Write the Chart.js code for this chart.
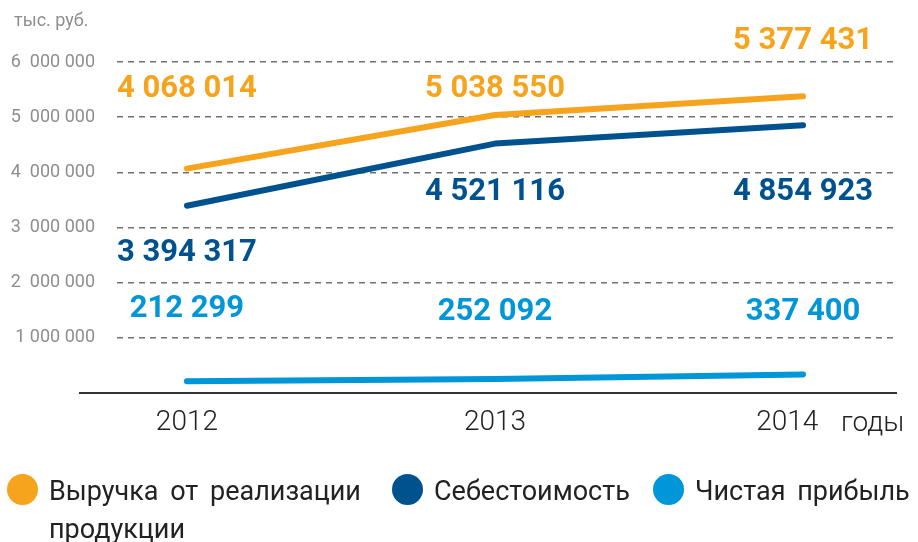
<!DOCTYPE html>
<html>
<head>
<meta charset="utf-8">
<script src="https://cdn.jsdelivr.net/npm/chart.js@4.4.1/dist/chart.umd.min.js"></script>
<style>
  body { margin: 0; background: #fff; }
  #wrap { position: relative; width: 918px; height: 542px; font-family: Roboto, sans-serif; }
  #grafico { position: absolute; left: 0; top: 0; }
  .unit { position: absolute; left: 14px; top: 9px; font-size: 18px; color: #8e8e8e; }
  .godi { position: absolute; left: 841px; top: 405px; font-size: 28px; font-weight: 300; color: #222; }
  .leg { position: absolute; top: 472px; font-size: 27px; color: #222; line-height: 38px; word-spacing: 5px; }
  .leg span.dot { position: absolute; left: 0; top: 2px; width: 31px; height: 31px; border-radius: 50%; }
  .leg div { padding-left: 42px; }
</style>
</head>
<body>
<div id="wrap">
  <canvas id="grafico" width="918" height="542"></canvas>
  <div class="unit">тыс. руб.</div>
  <div class="godi">годы</div>
  <div id="leyenda"></div>
</div>
<script>
const anios = [2012, 2013, 2014];
const nombres = ['Выручка от реализации продукции', 'Себестоимость', 'Чистая прибыль'];
const vyruchka = [4068014, 5038550, 5377431];
const sebestoimost = [3394317, 4521116, 4854923];
const pribyl = [212299, 252092, 337400];
const etiquetasY = ['1 000 000', '2  000 000', '3  000 000', '4  000 000', '5  000 000', '6  000 000'];
const colores = ['#F6A31E', '#00528F', '#0096D8'];

// where each value label sits (in axis units), per series and year
const filasEtiquetas = [
    [5510000, 5510000, 6380000],
    [2540000, 3640000, 3640000],
    [1520000, 1470000, 1470000]
];

function formato(n) {
    return String(n).replace(/\B(?=(\d{3})+(?!\d))/g, ' ');
}

const etiquetasPlugin = {
    id: 'etiquetas',
    afterDatasetsDraw(chart) {
        const ctx = chart.ctx;
        const x = chart.scales.x;
        const y = chart.scales.y;
        ctx.save();
        // base line, longer than the grid
        ctx.strokeStyle = '#333';
        ctx.lineWidth = 2;
        ctx.beginPath();
        ctx.moveTo(79, y.getPixelForValue(0));
        ctx.lineTo(chart.chartArea.right, y.getPixelForValue(0));
        ctx.stroke();

        ctx.font = 'bold 31px Roboto';
        ctx.textAlign = 'center';
        ctx.textBaseline = 'middle';
        chart.data.datasets.forEach((ds, i) => {
            ctx.fillStyle = ds.borderColor;
            ds.data.forEach((p, j) => {
                ctx.fillText(formato(p.y), x.getPixelForValue(p.x), y.getPixelForValue(filasEtiquetas[i][j]));
            });
        });
        ctx.restore();
    }
};

const series = [vyruchka, sebestoimost, pribyl];

new Chart(document.getElementById('grafico'), {
    type: 'line',
    data: {
        datasets: series.map((s, i) => ({
            label: nombres[i],
            data: s.map((v, j) => ({ x: anios[j], y: v })),
            borderColor: colores[i],
            borderWidth: 6,
            borderCapStyle: 'round',
            borderJoinStyle: 'round',
            pointRadius: 0,
            tension: 0,
            clip: false
        }))
    },
    options: {
        responsive: false,
        animation: false,
        events: [],
        layout: { padding: { top: 62, right: 21, left: 0, bottom: 0 } },
        plugins: { legend: { display: false }, tooltip: { enabled: false } },
        scales: {
            x: {
                type: 'linear',
                min: 2011.773,
                max: 2014.305,
                afterBuildTicks: axis => { axis.ticks = anios.map(v => ({ value: v })); },
                afterFit: axis => { axis.height = 149; },
                grid: { display: false, drawTicks: false },
                border: { display: false },
                ticks: {
                    padding: 13,
                    color: '#222',
                    font: { family: 'Roboto', size: 28, weight: 300 },
                    // last year label sits a bit left, leaving room for "годы"
                    callback: (v, i) => i === anios.length - 1 ? String(v) + '\u2007\u2007' : String(v)
                }
            },
            y: {
                min: 0,
                max: 6000000,
                afterBuildTicks: axis => { axis.ticks = [0, 1, 2, 3, 4, 5, 6].map(v => ({ value: v * 1000000 })); },
                afterFit: axis => { axis.width = 117; },
                border: { display: false, dash: [6, 5] },
                grid: {
                    drawTicks: false,
                    color: c => c.tick.value === 0 ? 'rgba(0,0,0,0)' : '#707070',
                    lineWidth: 1.5
                },
                ticks: {
                    padding: 22,
                    color: '#8e8e8e',
                    font: { family: 'Roboto', size: 18 },
                    callback: (v, i) => i === 0 ? '' : etiquetasY[i - 1]
                }
            }
        }
    },
    plugins: [etiquetasPlugin]
});

// legend
const leyenda = document.getElementById('leyenda');
const posLeyenda = [{ left: 7, width: 370, text: ['Выручка от реализации', 'продукции'] },
                    { left: 392, width: 240, text: ['Себестоимость'] },
                    { left: 653, width: 265, text: ['Чистая прибыль'] }];
posLeyenda.forEach((p, i) => {
    const el = document.createElement('div');
    el.className = 'leg';
    el.style.left = p.left + 'px';
    el.style.width = p.width + 'px';
    el.innerHTML = '<span class="dot" style="background:' + colores[i] + '"></span>' +
        p.text.map(t => '<div>' + t + '</div>').join('');
    leyenda.appendChild(el);
});
</script>
</body>
</html>
